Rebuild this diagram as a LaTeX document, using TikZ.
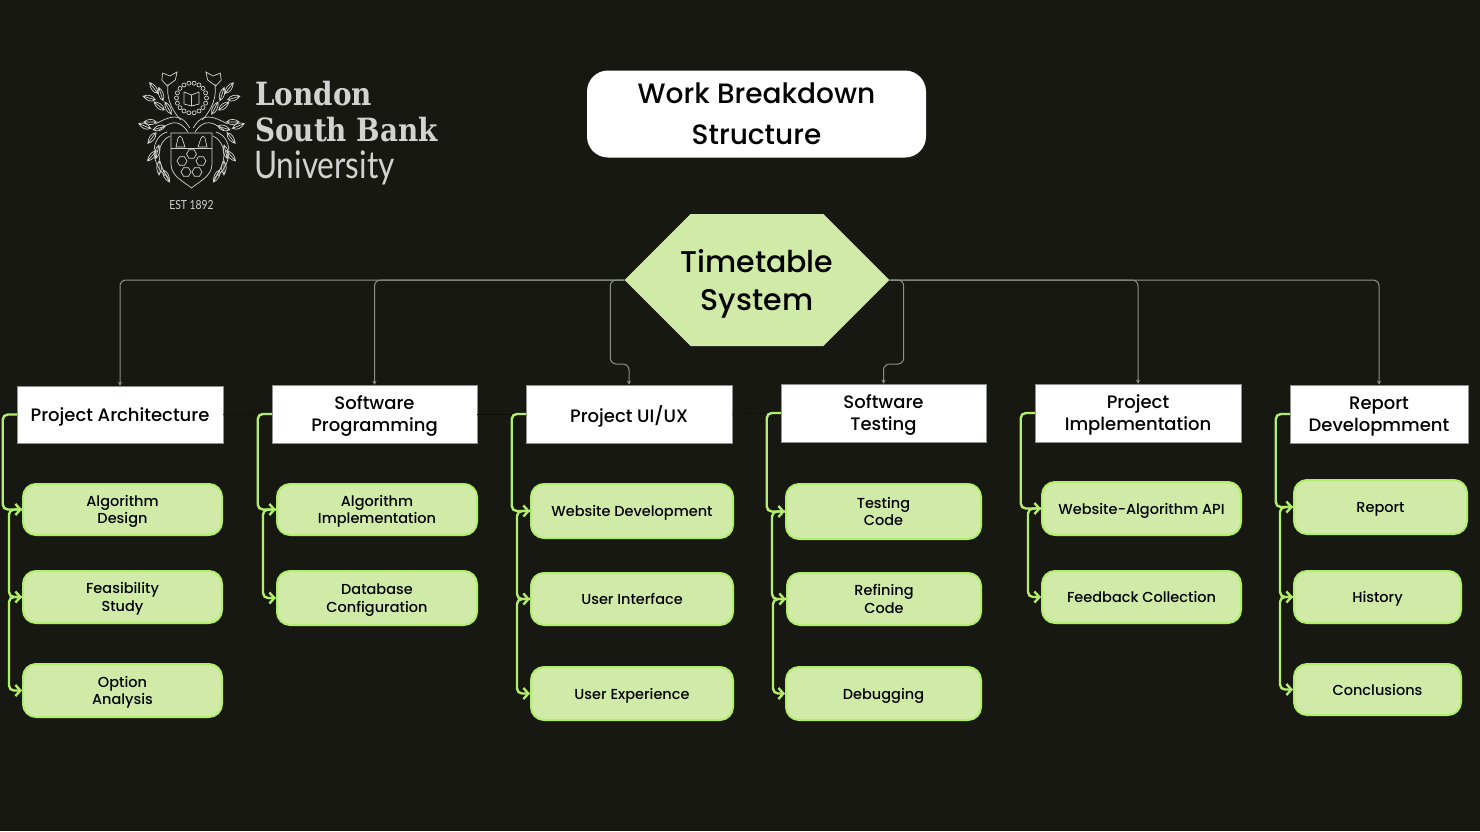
\documentclass[tikz,border=0pt]{standalone}
\usepackage{fontspec}
\usetikzlibrary{arrows.meta,shapes.symbols}
\setmainfont{Poppins Medium}
\newfontfamily\slabfont[FakeStretch=0.87]{DejaVu Serif}
\newfontfamily\lightfont[FakeStretch=0.83]{Lato}
\definecolor{bgdark}{HTML}{181813}
\definecolor{leaf}{HTML}{D0EBA8}
\definecolor{lime}{HTML}{B2EE6C}
\definecolor{wire}{HTML}{8C918C}
\definecolor{crest}{HTML}{D2D2D0}
\tikzset{
	headbox/.style={fill=white, draw=wire, line width=0.5pt, align=center, font=\fontsize{18}{22}\selectfont, inner sep=0pt, text depth=0pt},
	subbox/.style={fill=leaf, draw=lime, line width=2pt, rounded corners=13pt, align=center, font=\fontsize{14.5}{17.5}\selectfont, inner sep=0pt, text depth=0pt},
	wireline/.style={wire, line width=1pt, rounded corners=6pt, -{Stealth[length=4pt,width=4pt]}},
	limeline/.style={lime, line width=2.4pt, rounded corners=5pt, -{Straight Barb[length=5pt,width=11pt]}},
	crestline/.style={crest, line width=0.7pt},
}
\begin{document}
\begin{tikzpicture}[x=1pt,y=-1pt]
	\fill[bgdark] (0,0) rectangle (1480,831);
	\useasboundingbox (0,0) rectangle (1480,831);
	% title and root
	\node[fill=white, rounded corners=21pt, minimum width=339pt, minimum height=87pt, align=center, inner sep=0pt, font=\fontsize{28}{40.5}\selectfont] (title) at (756.5,114) {Work Breakdown\\Structure};
	\node[signal, signal to=west and east, signal pointer angle=90, fill=leaf, minimum width=264pt, minimum height=132pt, align=center, inner xsep=-10pt, inner ysep=0pt, font=\fontsize{30}{37.5}\selectfont, text depth=0pt] (root) at (757,280) {Timetable\\System};
	% logo text
	\node[crest, anchor=west, inner sep=0pt, font=\slabfont\bfseries\fontsize{32}{32}\selectfont] (logoa) at (255,94) {London};
	\node[crest, anchor=west, inner sep=0pt, font=\slabfont\bfseries\fontsize{32}{32}\selectfont] (logob) at (255,130) {South Bank};
	\node[crest, anchor=west, inner sep=0pt, font=\lightfont\fontsize{38}{38}\selectfont] (logoc) at (254,168) {University};
	\node[crest, inner sep=0pt, font=\lightfont\fontsize{12.5}{12}\selectfont] (logod) at (191.5,205) {EST 1892};
	% crest
	\draw[crestline] (171,133) -- (212,133) -- (212,164) .. controls (212,176) and (200,181) .. (191.5,188) .. controls (183,181) and (171,176) .. (171,164) -- cycle;
	\draw[crestline] (171,148) -- (212,148);
	\draw[crestline] (176,147) -- (178,138) -- (180,136) -- (182,138) -- (185,147) -- cycle;
	\draw[crestline] (198,147) -- (201,138) -- (203,136) -- (205,138) -- (207,147) -- cycle;
	\draw[crestline] (184,92) -- (191.5,95) -- (199,92) -- (199,104) -- (191.5,106) -- (184,104) -- cycle (191.5,95) -- (191.5,106);
	\foreach \a in {0,20,...,340}
		\draw[crestline] (191.5,98)++(\a:15) circle (2pt);
	\foreach \x/\y in {191.5/154,182/161,201/161,186/172,197/172}
		\draw[crestline] (\x+5,\y) -- (\x+2.5,\y+4.3) -- (\x-2.5,\y+4.3) -- (\x-5,\y) -- (\x-2.5,\y-4.3) -- (\x+2.5,\y-4.3) -- cycle;
	\foreach \a in {-1,1} {
		\begin{scope}[shift={(191.5,0)},xscale=0.9*\a]
			\draw[crestline] (2,128) .. controls (12,112) and (24,116) .. (40,124);
			\draw[crestline] (4,132) .. controls (14,118) and (24,122) .. (36,130);
			\draw[crestline] (12,120) .. controls (24,108) and (28,96) .. (26,84);
			\draw[crestline] (16,72) -- (24,76) -- (32,73) -- (33,80) -- (27,86) -- (18,80) -- cycle;
			\draw[crestline] (24,136) .. controls (38,142) and (42,160) .. (24,180);
			\draw[crestline] (27,132) .. controls (44,136) and (48,160) .. (29,176);
			\foreach \x/\y/\r in {42/88/50,47/98/15,34/94/70,36/106/35,26/108/60,46/122/0,52/126/20,36/128/-15,44/138/-50,38/152/-75,44/156/-45,36/168/-90,28/176/-120} {
				\draw[crestline,rotate around={\r:(\x,\y)}] (\x-7,\y) .. controls (\x-3,\y-4) and (\x+3,\y-3) .. (\x+7,\y) .. controls (\x+3,\y+3) and (\x-3,\y+4) .. (\x-7,\y) -- (\x+7,\y);
			}
		\end{scope}
	}
	% work packages
	\node[headbox, minimum width=206pt, minimum height=57pt] (arch) at (120,414.5) {Project Architecture};
	\node[headbox, minimum width=205pt, minimum height=58pt] (prog) at (374.5,414) {Software\\Programming};
	\node[headbox, minimum width=206pt, minimum height=58pt] (uiux) at (629,414) {Project UI/UX};
	\node[headbox, minimum width=205pt, minimum height=58pt] (test) at (883.5,413) {Software\\Testing};
	\node[headbox, minimum width=206pt, minimum height=58pt] (impl) at (1138,413) {Project\\Implementation};
	\node[headbox, minimum width=178pt, minimum height=58pt] (repo) at (1379,414) {Report\\Developmment};
	% tasks
	\node[subbox, minimum width=199pt, minimum height=51pt] (archa) at (122.5,509.5) {Algorithm\\Design};
	\node[subbox, minimum width=199pt, minimum height=52pt] (archb) at (122.5,597) {Feasibility\\Study};
	\node[subbox, minimum width=199pt, minimum height=53pt] (archc) at (122.5,690.5) {Option\\Analysis};
	\node[subbox, minimum width=200pt, minimum height=51pt] (proga) at (377,509.5) {Algorithm\\Implementation};
	\node[subbox, minimum width=200pt, minimum height=54pt] (progb) at (377,598) {Database\\Configuration};
	\node[subbox, minimum width=202pt, minimum height=54pt] (uiuxa) at (632,511) {Website Development};
	\node[subbox, minimum width=202pt, minimum height=52pt] (uiuxb) at (632,599) {User Interface};
	\node[subbox, minimum width=202pt, minimum height=53pt] (uiuxc) at (632,693.5) {User Experience};
	\node[subbox, minimum width=195pt, minimum height=55pt] (testa) at (883.5,511.5) {Testing\\Code};
	\node[subbox, minimum width=194pt, minimum height=52pt] (testb) at (884,599) {Refining\\Code};
	\node[subbox, minimum width=195pt, minimum height=53pt] (testc) at (883.5,693.5) {Debugging};
	\node[subbox, minimum width=199pt, minimum height=53pt] (impla) at (1141.5,508.5) {Website-Algorithm API};
	\node[subbox, minimum width=199pt, minimum height=52pt] (implb) at (1141.5,597) {Feedback Collection};
	\node[subbox, minimum width=173pt, minimum height=54pt] (repoa) at (1380.5,507) {Report};
	\node[subbox, minimum width=167pt, minimum height=52pt] (repob) at (1377.5,597) {History};
	\node[subbox, minimum width=167pt, minimum height=51pt] (repoc) at (1377.5,689.5) {Conclusions};
	% root to work packages
	\draw[wireline] (root.west) -| (arch.north);
	\draw[wireline] (root.west) -| (prog.north);
	\draw[wireline] (root.east) -| (impl.north);
	\draw[wireline] (root.east) -| (repo.north);
	\draw[wireline] (root.west) -- ++(-14,0) -- ++(0,84) -| (uiux.north);
	\draw[wireline] (root.east) -- ++(14,0) -- ++(0,84) -| (test.north);
	% dark links between work packages
	\foreach \a/\b in {arch/prog,prog/uiux,uiux/test}
		\draw[black, dotted, line width=0.8pt] (\a.east) -- (\b.west);
	% work packages to tasks
	\foreach \h/\t in {arch/archa,prog/proga,uiux/uiuxa,test/testa,impl/impla,repo/repoa}
		\draw[limeline] (\h.west) -- ++(-14,0) |- (\t.west);
	\foreach \s/\t in {archa/archb,archb/archc,proga/progb,uiuxa/uiuxb,uiuxb/uiuxc,testa/testb,testb/testc,impla/implb,repoa/repob,repob/repoc}
		\draw[limeline] (\s.west) -- ++(-13,0) |- (\t.west);
\end{tikzpicture}
\end{document}
